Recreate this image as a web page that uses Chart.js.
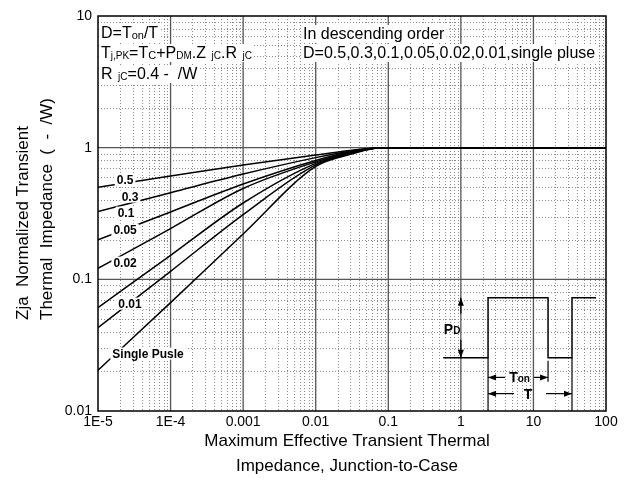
<!DOCTYPE html>
<html>
<head>
<meta charset="utf-8">
<script src="https://cdn.jsdelivr.net/npm/chart.js@4.4.1/dist/chart.umd.min.js"></script>
<style>
html,body{margin:0;padding:0;background:#fff;}
canvas{display:block;}
</style>
</head>
<body>
<canvas id="c" width="627" height="481" style="width:627px;height:481px"></canvas>
<script>
// ---- data ----
const xTickLabels = ['1E-5','1E-4','0.001','0.01','0.1','1','10','100'];
const yTickLabels = ['0.01','0.1','1','10'];
const times = [1e-5, 1e-4, 1e-3, 1e-2, 0.03, 0.08, 100];
const zD05 = [0.50, 0.61, 0.74, 0.88, 0.95, 1.0, 1.0];
const zD03 = [0.328, 0.455, 0.63, 0.84, 0.94, 1.0, 1.0];
const zD01 = [0.200, 0.325, 0.53, 0.80, 0.93, 1.0, 1.0];
const zD005 = [0.121, 0.243, 0.49, 0.78, 0.92, 1.0, 1.0];
const zD002 = [0.061, 0.152, 0.38, 0.76, 0.91, 1.0, 1.0];
const zD001 = [0.043, 0.115, 0.31, 0.74, 0.90, 1.0, 1.0];
const zSingle = [0.0204, 0.0665, 0.221, 0.72, 0.89, 1.0, 1.0];
const curveLabels = ['0.5','0.3','0.1','0.05','0.02','0.01','Single Pusle'];
// label anchor points (data coordinates)
const labelX = [2.36e-5, 2.76e-5, 2.43e-5, 2.36e-5, 2.36e-5, 2.76e-5, 4.89e-5];
const labelY = [0.571, 0.425, 0.321, 0.238, 0.134, 0.0654, 0.0273];
// pulse train inset (data coordinates)
const pulseX = [0.57, 2.37, 2.37, 15.9, 15.9, 34, 34, 72.8];
const pulseY = [0.0254, 0.0254, 0.0726, 0.0726, 0.0254, 0.0254, 0.0726, 0.0726];

const series = [zD05, zD03, zD01, zD005, zD002, zD001, zSingle];
const FONT = '"Liberation Sans", Arial, sans-serif';

function pts(xs, ys){ return xs.map((x,i)=>({x:x, y:ys[i]})); }
function isDecade(v){ const e=Math.log10(v); return Math.abs(e-Math.round(e))<1e-6; }

const datasets = series.map((s,i)=>({
  label: curveLabels[i], data: pts(times, s),
  borderColor:'#000', borderWidth:1.5, pointRadius:0, fill:false,
  cubicInterpolationMode:'monotone'
}));
datasets.push({label:'pulse', data: pts(pulseX, pulseY), borderColor:'#000', borderWidth:1.5, pointRadius:0, fill:false, tension:0});

function richText(ctx, x, y, segs){
  let cx = x;
  segs.forEach(s=>{
    ctx.font = (s.b?'bold ':'') + s.s + 'px ' + FONT;
    ctx.fillText(s.t, cx, y + (s.dy||0));
    cx += ctx.measureText(s.t).width;
  });
  return cx - x;
}
function richWidth(ctx, segs){
  let w=0; segs.forEach(s=>{ctx.font=(s.b?'bold ':'')+s.s+'px '+FONT; w+=ctx.measureText(s.t).width;}); return w;
}

const gridPlugin = {
  id:'gridPlugin',
  beforeDatasetsDraw(chart){
    const {ctx, chartArea:a, scales:{x, y}} = chart;
    ctx.save();
    // minor dotted
    ctx.strokeStyle = '#8a8a8a'; ctx.lineWidth = 1; ctx.setLineDash([1,2]);
    for(let e=-5;e<2;e++) for(let m=2;m<=9;m++){
      const px = Math.round(x.getPixelForValue(m*Math.pow(10,e)))+0.5;
      ctx.beginPath(); ctx.moveTo(px,a.top); ctx.lineTo(px,a.bottom); ctx.stroke();
    }
    for(let e=-2;e<1;e++) for(let m=2;m<=9;m++){
      const py = Math.round(y.getPixelForValue(m*Math.pow(10,e)))+0.5;
      ctx.beginPath(); ctx.moveTo(a.left,py); ctx.lineTo(a.right,py); ctx.stroke();
    }
    ctx.setLineDash([]);
    ctx.strokeStyle = '#555'; ctx.lineWidth = 1.3;
    for(let e=-4;e<2;e++){
      const px = x.getPixelForValue(Math.pow(10,e));
      ctx.beginPath(); ctx.moveTo(px,a.top); ctx.lineTo(px,a.bottom); ctx.stroke();
    }
    for(let e=-1;e<1;e++){
      const py = y.getPixelForValue(Math.pow(10,e));
      ctx.beginPath(); ctx.moveTo(a.left,py); ctx.lineTo(a.right,py); ctx.stroke();
    }
    ctx.restore();
  },
  afterDatasetsDraw(chart){
    const {ctx, chartArea:a, scales:{x, y}} = chart;
    ctx.save();
    // curve labels
    ctx.font = 'bold 12px ' + FONT;
    ctx.textBaseline = 'middle'; ctx.textAlign = 'center';
    curveLabels.forEach((t,i)=>{
      const px = x.getPixelForValue(labelX[i]), py = y.getPixelForValue(labelY[i]);
      const w = ctx.measureText(t).width;
      ctx.fillStyle='#fff'; ctx.fillRect(px-w/2-2, py-6, w+4, 12);
      ctx.fillStyle='#000'; ctx.fillText(t, px, py+1);
    });
    // inset annotations
    ctx.strokeStyle='#000'; ctx.fillStyle='#000'; ctx.lineWidth=1.2;
    const hiY = y.getPixelForValue(pulseY[2]), loY = y.getPixelForValue(pulseY[0]);
    const xr1 = x.getPixelForValue(pulseX[1]), xf = x.getPixelForValue(pulseX[3]), xr2 = x.getPixelForValue(pulseX[5]);
    const xPD = x.getPixelForValue(1);
    function line(x1,y1,x2,y2){ctx.beginPath();ctx.moveTo(x1,y1);ctx.lineTo(x2,y2);ctx.stroke();}
    function head(xx,yy,dir){ // dir: 'l','r','u','d'
      ctx.beginPath();
      if(dir==='l'){ctx.moveTo(xx,yy);ctx.lineTo(xx+8,yy-3);ctx.lineTo(xx+8,yy+3);}
      if(dir==='r'){ctx.moveTo(xx,yy);ctx.lineTo(xx-8,yy-3);ctx.lineTo(xx-8,yy+3);}
      if(dir==='u'){ctx.moveTo(xx,yy);ctx.lineTo(xx-3,yy+8);ctx.lineTo(xx+3,yy+8);}
      if(dir==='d'){ctx.moveTo(xx,yy);ctx.lineTo(xx-3,yy-8);ctx.lineTo(xx+3,yy-8);}
      ctx.closePath(); ctx.fill();
    }
    // PD
    line(xPD,hiY,xPD,hiY+16); head(xPD,hiY,'u');
    line(xPD,loY-18,xPD,loY); head(xPD,loY,'d');
    ctx.textAlign='left'; ctx.textBaseline='alphabetic';
    richText(ctx, xPD-17, (hiY+loY)/2+6, [{t:'P',s:14,b:1},{t:'D',s:10,b:1}]);
    // vertical markers
    line(xr1, loY, xr1, a.bottom);
    line(xr2, loY, xr2, a.bottom);
    line(xf, loY+3, xf, loY+24);
    // Ton arrow
    const yTon = y.getPixelForValue(0.018), yT = y.getPixelForValue(0.01355);
    line(xr1, yTon, xr1+17, yTon); head(xr1, yTon, 'l');
    line(xf-14, yTon, xf, yTon); head(xf, yTon, 'r');
    const tonSegs=[{t:'T',s:14,b:1},{t:'on',s:10,b:1}];
    const tw = richWidth(ctx,tonSegs);
    richText(ctx, (xr1+17+xf-14)/2 - tw/2, yTon+5, tonSegs);
    line(xr1, yT, xr1+26, yT); head(xr1, yT, 'l');
    line(xr2-26, yT, xr2, yT); head(xr2, yT, 'r');
    ctx.font='bold 14px '+FONT; ctx.textAlign='center';
    ctx.fillText('T', (xr1+xr2)/2 - 2, yT+5);
    // frame
    ctx.strokeStyle='#000'; ctx.lineWidth=1.5;
    ctx.strokeRect(a.left, a.top, a.right-a.left, a.bottom-a.top);
    // top-left text block
    ctx.textAlign='left'; ctx.textBaseline='alphabetic';
    const tl = [
      [{t:'D=T',s:16},{t:'on',s:11,dy:1},{t:'/T',s:16}],
      [{t:'T',s:16},{t:'j,PK',s:10,dy:1},{t:'=T',s:16},{t:'C',s:11,dy:1},{t:'+P',s:16},{t:'DM',s:10,dy:1},{t:'.Z',s:16},{t:'  jC',s:10,dy:1},{t:'.R',s:16},{t:'  jC',s:10,dy:1}],
      [{t:'R',s:16},{t:'  jC',s:10,dy:1},{t:'=0.4 -  /W',s:16}]
    ];
    const tlY=[38,58,79];
    tl.forEach((segs,i)=>{
      const w = richWidth(ctx,segs);
      ctx.fillStyle='#fff'; ctx.fillRect(a.left+1, tlY[i]-14, w+4, 18);
      ctx.fillStyle='#000'; richText(ctx, a.left+3, tlY[i], segs);
    });
    const tr = ['In descending order','D=0.5,0.3,0.1,0.05,0.02,0.01,single pluse'];
    const trY=[39,58];
    ctx.font='16px '+FONT;
    tr.forEach((t,i)=>{
      const w = ctx.measureText(t).width;
      ctx.fillStyle='#fff'; ctx.fillRect(301, trY[i]-14, w+4, 18);
      ctx.fillStyle='#000'; ctx.fillText(t, 303, trY[i]);
    });
    ctx.restore();
  },
  afterDraw(chart){
    const {ctx, chartArea:a} = chart;
    ctx.save();
    ctx.fillStyle='#000'; ctx.font='17px '+FONT;
    ctx.textAlign='center'; ctx.textBaseline='alphabetic';
    const cx=(a.left+a.right)/2 - 5;
    ctx.fillText('Maximum Effective Transient Thermal', cx, 446);
    ctx.fillText('Impedance, Junction-to-Case', cx, 471);
    ctx.translate(0,0);
    ctx.save();
    ctx.translate(28, 320); ctx.rotate(-Math.PI/2);
    ctx.textAlign='left';
    ctx.fillText('Zja  Normalized Transient', 0, 0);
    ctx.fillText('Thermal  Impedance  (  -  /W)', 0, 24);
    ctx.restore();
    ctx.restore();
  }
};

new Chart(document.getElementById('c'), {
  type:'line',
  data:{datasets},
  plugins:[gridPlugin],
  options:{
    responsive:false, animation:false, devicePixelRatio:1,
    layout:{padding:{left:0,right:21,top:16,bottom:0}},
    plugins:{legend:{display:false}, tooltip:{enabled:false}},
    scales:{
      x:{type:'logarithmic', min:1e-5, max:100,
        grid:{display:false, drawTicks:false}, border:{display:false},
        afterFit(s){ s.height = 70; },
        ticks:{autoSkip:false, maxRotation:0, padding:3, color:'#000', font:{family:FONT, size:14},
          callback(v){ return isDecade(v) ? xTickLabels[Math.round(Math.log10(v))+5] : ''; }}
      },
      y:{type:'logarithmic', min:0.01, max:10,
        grid:{display:false, drawTicks:false}, border:{display:false},
        afterFit(s){ s.width = 98; },
        ticks:{autoSkip:false, padding:6, color:'#000', font:{family:FONT, size:14},
          callback(v){ return isDecade(v) ? yTickLabels[Math.round(Math.log10(v))+2] : ''; }}
      }
    }
  }
});
</script>
</body>
</html>
